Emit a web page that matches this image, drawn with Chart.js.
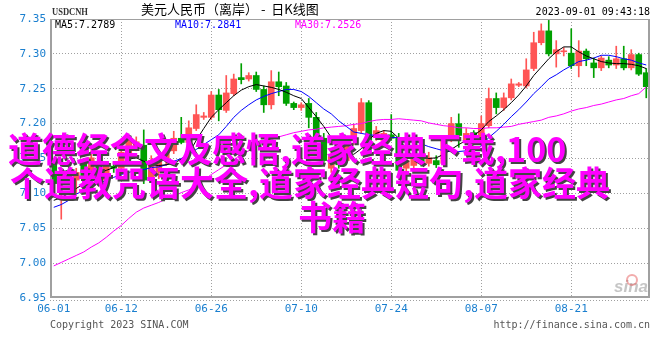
<!DOCTYPE html>
<html>
<head>
<meta charset="utf-8">
<script src="https://cdn.jsdelivr.net/npm/chart.js@4.4.0/dist/chart.umd.min.js"></script>
<style>
  html, body { margin: 0; padding: 0; background: #fff; overflow: hidden; }
  canvas { display: block; }
</style>
</head>
<body>
<canvas id="kline" width="660" height="360"></canvas>
<script>
// USDCNH daily K-line, 2023-06-01 .. 2023-09-01
const dates = [
  '06-01','06-02','06-03','06-05','06-06','06-07','06-08','06-09','06-10',
  '06-12','06-13','06-14','06-15','06-16','06-17',
  '06-19','06-20','06-21','06-22','06-23','06-24',
  '06-26','06-27','06-28','06-29','06-30','07-01',
  '07-03','07-04','07-05','07-06','07-07','07-08',
  '07-10','07-11','07-12','07-13','07-14','07-15',
  '07-17','07-18','07-19','07-20','07-21','07-22',
  '07-24','07-25','07-26','07-27','07-28','07-29',
  '07-31','08-01','08-02','08-03','08-04','08-05',
  '08-07','08-08','08-09','08-10','08-11','08-12',
  '08-14','08-15','08-16','08-17','08-18','08-19',
  '08-21','08-22','08-23','08-24','08-25','08-26',
  '08-28','08-29','08-30','08-31','09-01'
];
const tickDates = ['06-01', '06-12', '06-26', '07-10', '07-24', '08-07', '08-21'];
const yTicks = [6.95, 7.00, 7.05, 7.10, 7.15, 7.20, 7.25, 7.30, 7.35];

const opens = [
  7.140, 7.114, 7.133, 7.119, 7.144, 7.119, 7.140, 7.119, 7.139, 7.136,
  7.151, 7.167, 7.169, 7.121, 7.130, 7.147, 7.161, 7.179, 7.173, 7.193,
  7.209, 7.209, 7.241, 7.219, 7.243, 7.266, 7.264, 7.269, 7.249, 7.227,
  7.260, 7.254, 7.229, 7.223, 7.229, 7.209, 7.179, 7.136, 7.153, 7.147,
  7.176, 7.190, 7.230, 7.180, 7.176, 7.184, 7.179, 7.136, 7.140, 7.150,
  7.143, 7.147, 7.143, 7.179, 7.200, 7.176, 7.187, 7.180, 7.197, 7.236,
  7.223, 7.237, 7.255, 7.254, 7.279, 7.316, 7.333, 7.300, 7.303, 7.301,
  7.283, 7.304, 7.287, 7.280, 7.291, 7.284, 7.293, 7.280, 7.299, 7.273
];
const highs = [
  7.147, 7.136, 7.139, 7.136, 7.150, 7.161, 7.144, 7.144, 7.144, 7.164,
  7.183, 7.181, 7.191, 7.154, 7.161, 7.169, 7.189, 7.209, 7.204, 7.227,
  7.216, 7.246, 7.249, 7.269, 7.271, 7.286, 7.273, 7.274, 7.254, 7.276,
  7.274, 7.259, 7.231, 7.230, 7.236, 7.216, 7.186, 7.159, 7.161, 7.176,
  7.199, 7.236, 7.233, 7.196, 7.190, 7.213, 7.186, 7.154, 7.157, 7.156,
  7.159, 7.154, 7.179, 7.209, 7.214, 7.193, 7.190, 7.211, 7.251, 7.244,
  7.244, 7.264, 7.259, 7.293, 7.331, 7.343, 7.348, 7.319, 7.309, 7.336,
  7.319, 7.307, 7.294, 7.297, 7.296, 7.311, 7.311, 7.306, 7.301, 7.279
];
const lows = [
  7.107, 7.063, 7.113, 7.099, 7.119, 7.116, 7.113, 7.114, 7.130, 7.131,
  7.147, 7.161, 7.114, 7.116, 7.121, 7.140, 7.157, 7.171, 7.169, 7.190,
  7.206, 7.206, 7.204, 7.216, 7.240, 7.257, 7.261, 7.246, 7.216, 7.221,
  7.240, 7.226, 7.220, 7.219, 7.194, 7.173, 7.140, 7.130, 7.136, 7.141,
  7.170, 7.186, 7.169, 7.176, 7.171, 7.176, 7.127, 7.130, 7.136, 7.139,
  7.139, 7.137, 7.139, 7.174, 7.166, 7.171, 7.179, 7.176, 7.194, 7.214,
  7.219, 7.234, 7.253, 7.251, 7.276, 7.313, 7.297, 7.281, 7.297, 7.279,
  7.267, 7.283, 7.266, 7.276, 7.280, 7.279, 7.277, 7.277, 7.269, 7.237
];
const closes = [
  7.114, 7.130, 7.121, 7.130, 7.124, 7.151, 7.119, 7.139, 7.136, 7.159,
  7.176, 7.174, 7.119, 7.147, 7.150, 7.161, 7.179, 7.173, 7.194, 7.213,
  7.211, 7.241, 7.220, 7.244, 7.264, 7.263, 7.269, 7.249, 7.227, 7.260,
  7.253, 7.229, 7.223, 7.227, 7.209, 7.179, 7.147, 7.153, 7.141, 7.173,
  7.193, 7.230, 7.176, 7.190, 7.186, 7.179, 7.133, 7.147, 7.150, 7.143,
  7.151, 7.141, 7.176, 7.200, 7.183, 7.186, 7.183, 7.200, 7.236, 7.223,
  7.237, 7.257, 7.257, 7.277, 7.316, 7.333, 7.300, 7.306, 7.304, 7.283,
  7.304, 7.293, 7.280, 7.294, 7.284, 7.293, 7.280, 7.299, 7.271, 7.253
];

// moving averages
const ma5 = [
  7.090, 7.094, 7.100, 7.107, 7.114, 7.121, 7.129, 7.133, 7.137, 7.143,
  7.149, 7.151, 7.146, 7.141, 7.140, 7.141, 7.143, 7.149, 7.157, 7.176,
  7.193, 7.209, 7.220, 7.230, 7.240, 7.248, 7.253, 7.256, 7.254, 7.252,
  7.249, 7.245, 7.240, 7.236, 7.223, 7.210, 7.196, 7.180, 7.167, 7.159,
  7.156, 7.164, 7.177, 7.186, 7.190, 7.189, 7.179, 7.163, 7.153, 7.150,
  7.150, 7.151, 7.156, 7.163, 7.170, 7.176, 7.183, 7.191, 7.203, 7.211,
  7.220, 7.230, 7.241, 7.254, 7.269, 7.281, 7.293, 7.303, 7.310, 7.310,
  7.303, 7.297, 7.293, 7.289, 7.287, 7.286, 7.286, 7.285, 7.283, 7.2789
];
const ma10 = [
  7.080, 7.084, 7.090, 7.099, 7.104, 7.110, 7.114, 7.119, 7.123, 7.127,
  7.130, 7.133, 7.134, 7.137, 7.138, 7.141, 7.146, 7.150, 7.156, 7.163,
  7.170, 7.177, 7.184, 7.196, 7.209, 7.219, 7.227, 7.234, 7.239, 7.243,
  7.246, 7.249, 7.249, 7.246, 7.239, 7.230, 7.221, 7.214, 7.204, 7.196,
  7.188, 7.186, 7.184, 7.183, 7.181, 7.180, 7.180, 7.179, 7.176, 7.171,
  7.167, 7.164, 7.161, 7.160, 7.160, 7.161, 7.164, 7.168, 7.180, 7.189,
  7.199, 7.210, 7.220, 7.231, 7.243, 7.253, 7.264, 7.270, 7.277, 7.283,
  7.289, 7.291, 7.294, 7.298, 7.298, 7.296, 7.293, 7.291, 7.287, 7.2841
];
const ma30 = [
  6.996, 7.001, 7.006, 7.011, 7.016, 7.023, 7.029, 7.037, 7.046, 7.054,
  7.064, 7.073, 7.079, 7.083, 7.087, 7.092, 7.096, 7.101, 7.105, 7.111,
  7.119, 7.127, 7.134, 7.141, 7.148, 7.156, 7.161, 7.169, 7.174, 7.177,
  7.181, 7.184, 7.187, 7.189, 7.191, 7.192, 7.194, 7.195, 7.196, 7.197,
  7.199, 7.200, 7.203, 7.205, 7.206, 7.206, 7.207, 7.206, 7.205, 7.204,
  7.201, 7.199, 7.197, 7.196, 7.194, 7.194, 7.193, 7.193, 7.194, 7.194,
  7.195, 7.196, 7.199, 7.201, 7.203, 7.205, 7.209, 7.211, 7.214, 7.218,
  7.221, 7.223, 7.226, 7.228, 7.231, 7.234, 7.236, 7.240, 7.243, 7.2526
];

const UP = '#ff5555';
const DOWN = '#00a000';
const candleColor = (c) => closes[c.dataIndex] >= opens[c.dataIndex] ? UP : DOWN;

const overlayLines = [
  ['道德经全文及感悟,道家经典下载,100', 8, 162],
  ['个道教咒语大全,道家经典短句,道家经典', 10, 196],
  ['书籍', 298, 230]
];

// frame, header, footer and the overlay caption
const decorations = {
  id: 'decorations',
  afterDatasetsDraw(chart) {
    const { ctx, chartArea: a } = chart;
    ctx.save();
    ctx.strokeStyle = '#a0a0a0';
    ctx.lineWidth = 1;
    ctx.strokeRect(a.left + 0.5, a.top + 0.5, a.right - a.left - 1, a.bottom - a.top - 1);
    ctx.lineWidth = 2;
    ctx.beginPath();
    ctx.moveTo(a.left + 1, a.top);
    ctx.lineTo(a.left + 1, a.bottom - 1);
    ctx.lineTo(a.right, a.bottom - 1);
    ctx.moveTo(a.right - 1, a.top);
    ctx.lineTo(a.right - 1, a.bottom);
    ctx.stroke();
    ctx.lineWidth = 1;
    ctx.setLineDash([1, 2]);
    ctx.beginPath();
    ctx.moveTo(a.left, a.bottom + 2.5);
    ctx.lineTo(a.right, a.bottom + 2.5);
    ctx.stroke();
    ctx.restore();
  },
  afterDraw(chart) {
    const { ctx, chartArea: a } = chart;
    ctx.save();
    ctx.textBaseline = 'alphabetic';

    ctx.fillStyle = '#333';
    ctx.font = 'bold 10px "Liberation Serif"';
    ctx.fillText('USDCNH', 52, 15, 36);

    ctx.fillStyle = '#000';
    ctx.font = '13px "Noto Sans CJK SC"';
    ctx.fillText('美元人民币（离岸） -  日K线图', 141, 14);

    ctx.font = '10px "DejaVu Sans Mono"';
    ctx.textAlign = 'right';
    ctx.fillText('2023-09-01 09:43:18', a.right, 15);

    ctx.textAlign = 'left';
    ctx.fillStyle = '#000';
    ctx.fillText('MA5:' + ma5[ma5.length - 1].toFixed(4), 55, 28);
    ctx.fillStyle = '#0000ff';
    ctx.fillText('MA10:' + ma10[ma10.length - 1].toFixed(4), 175, 28);
    ctx.fillStyle = '#ff00ff';
    ctx.fillText('MA30:' + ma30[ma30.length - 1].toFixed(4), 295, 28);

    ctx.fillStyle = '#555';
    ctx.fillText('Copyright 2023 SINA.COM', 50, 328);
    ctx.textAlign = 'right';
    ctx.fillText('http://finance.sina.com.cn', a.right, 328);

    // sina watermark
    ctx.fillStyle = 'rgba(150,150,150,0.55)';
    ctx.font = 'italic bold 17px "Liberation Sans"';
    ctx.fillText('sina', a.right - 2, 292);
    ctx.strokeStyle = 'rgba(230,90,90,0.5)';
    ctx.lineWidth = 2;
    ctx.beginPath();
    ctx.arc(a.right - 18, 280, 5, 0, Math.PI * 2);
    ctx.stroke();

    // magenta caption
    ctx.textAlign = 'left';
    ctx.font = 'bold 34px "Noto Sans CJK SC"';
    ctx.fillStyle = '#ff00ff';
    ctx.shadowColor = '#444';
    ctx.shadowOffsetX = 2;
    ctx.shadowOffsetY = 2;
    ctx.shadowBlur = 0;
    overlayLines.forEach(([text, x, y]) => ctx.fillText(text, x, y));
    ctx.restore();
  }
};

const ctx = document.getElementById('kline').getContext('2d');
const kline = new Chart(ctx, {
  type: 'bar',
  data: {
    labels: dates,
    datasets: [
      {
        type: 'line',
        label: 'MA5',
        data: ma5,
        borderColor: '#000000',
        borderWidth: 1,
        pointRadius: 0,
        tension: 0,
        order: 0
      },
      {
        type: 'line',
        label: 'MA10',
        data: ma10,
        borderColor: '#0000ff',
        borderWidth: 1,
        pointRadius: 0,
        tension: 0,
        order: 0
      },
      {
        type: 'line',
        label: 'MA30',
        data: ma30,
        borderColor: '#ff00ff',
        borderWidth: 1,
        pointRadius: 0,
        tension: 0,
        order: 0
      },
      {
        label: 'body',
        data: opens.map((o, i) => [o, closes[i]]),
        backgroundColor: candleColor,
        barThickness: 6,
        minBarLength: 1,
        grouped: false,
        order: 1
      },
      {
        label: 'wick',
        data: lows.map((l, i) => [l, highs[i]]),
        backgroundColor: candleColor,
        barThickness: 1,
        grouped: false,
        order: 2
      }
    ]
  },
  options: {
    responsive: false,
    animation: false,
    layout: { padding: { top: 19, right: 10, left: 0, bottom: 0 } },
    plugins: {
      legend: { display: false },
      tooltip: { enabled: false }
    },
    scales: {
      x: {
        afterFit: (scale) => { scale.height = 62; },
        afterBuildTicks: (scale) => {
          scale.ticks = scale.ticks.filter(t => tickDates.includes(dates[t.value]));
        },
        grid: {
          offset: false,
          drawTicks: false,
          color: (c) => (c.tick && c.tick.value === 0) ? 'rgba(0,0,0,0)' : '#a0a0a0'
        },
        border: { display: false, dash: [1, 2] },
        ticks: {
          autoSkip: false,
          maxRotation: 0,
          padding: 5,
          color: '#1a7fcf',
          font: { family: 'DejaVu Sans Mono', size: 11 },
          callback: (v) => dates[v]
        }
      },
      y: {
        min: 6.95,
        max: 7.35,
        afterFit: (scale) => { scale.width = 50; },
        afterBuildTicks: (scale) => {
          scale.ticks = yTicks.map(v => ({ value: v }));
        },
        grid: {
          drawTicks: false,
          color: (c) => (c.tick && (c.tick.value <= 6.95 || c.tick.value >= 7.35)) ? 'rgba(0,0,0,0)' : '#a0a0a0'
        },
        border: { display: false, dash: [1, 2] },
        ticks: {
          padding: 4,
          color: '#1a7fcf',
          font: { family: 'DejaVu Sans Mono', size: 11 },
          callback: (v) => Number(v).toFixed(2)
        }
      }
    }
  },
  plugins: [decorations]
});
</script>
</body>
</html>
